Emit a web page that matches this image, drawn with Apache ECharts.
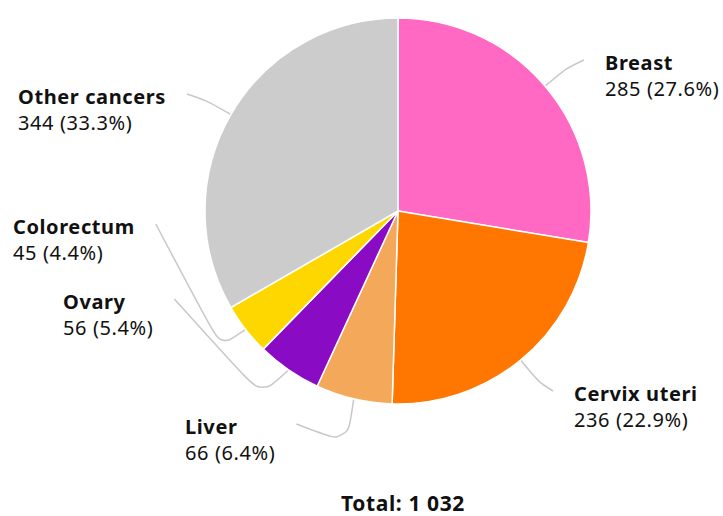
<!DOCTYPE html>
<html>
<head>
<meta charset="utf-8">
<script src="https://cdn.jsdelivr.net/npm/echarts@6/dist/echarts.min.js"></script>
<style>
  html, body { margin: 0; padding: 0; background: #fff; }
  #chart { width: 723px; height: 516px; }
  /* the reference text is set a touch loose */
  #chart text { letter-spacing: 0.6px; }
</style>
</head>
<body>
<div id="chart"></div>
<script>
const cancerSites = ['Breast', 'Cervix uteri', 'Liver', 'Ovary', 'Colorectum', 'Other cancers'];
const caseCounts = [285, 236, 66, 56, 45, 344];
const sharePct = [27.6, 22.9, 6.4, 5.4, 4.4, 33.3];
const sliceColors = ['#ff69c3', '#ff7700', '#f4a85a', '#8a0bc4', '#ffd700', '#cccccc'];
const totalLabel = 'Total: 1 032';

const chart = echarts.init(document.getElementById('chart'), null, { renderer: 'svg' });

const font = '"Noto Sans", "Open Sans", sans-serif';
const letterGap = 0.6;

// where each label block sits (left edge, top edge)
const labelSpot = [
  [605, 49], [574, 380], [185, 413], [63, 288], [13, 213], [18, 83],
];

function valueText(i) {
  return `${caseCounts[i]} (${sharePct[i]}%)`;
}

function placeLabel(params) {
  const i = params.dataIndex;
  const [lx, ly] = labelSpot[i];
  const longest = Math.max(cancerSites[i].length, valueText(i).length);
  const w = params.labelRect.width + longest * letterGap;
  const pts = params.labelLinePoints;
  const onLeft = lx < 398;
  const endX = onLeft ? lx + w + 21 : lx - 21;
  const endY = ly + 11;
  return {
    x: lx,
    y: ly,
    align: 'left',
    verticalAlign: 'top',
    labelLinePoints: pts ? [pts[0], pts[1], [endX, endY]] : undefined,
  };
}

chart.setOption({
  backgroundColor: '#fff',
  animation: false,
  title: {
    text: totalLabel,
    left: 398,
    top: 487,
    textAlign: 'center',
    textStyle: { fontFamily: font, fontSize: 21, fontWeight: 'bold', color: '#111' },
  },
  series: [
    {
      type: 'pie',
      center: [398, 211],
      radius: 193,
      startAngle: 90,
      clockwise: true,
      itemStyle: { borderColor: '#fff', borderWidth: 1.5 },
      label: {
        show: true,
        formatter: (p) => `{name|${p.name}}\n{val|${valueText(p.dataIndex)}}`,
        rich: {
          name: { fontFamily: font, fontSize: 20, fontWeight: 'bold', color: '#111', lineHeight: 26.5, align: 'left' },
          val: { fontFamily: font, fontSize: 20, color: '#111', lineHeight: 26.5, align: 'left' },
        },
      },
      labelLine: {
        show: true,
        length: 28,
        length2: 10,
        smooth: 0.3,
        lineStyle: { color: '#c8c8c8', width: 1.5 },
      },
      labelLayout: placeLabel,
      emphasis: { disabled: true },
      data: cancerSites.map((name, i) => ({
        name,
        value: caseCounts[i],
        itemStyle: { color: sliceColors[i] },
      })),
    },
  ],
});
</script>
</body>
</html>
